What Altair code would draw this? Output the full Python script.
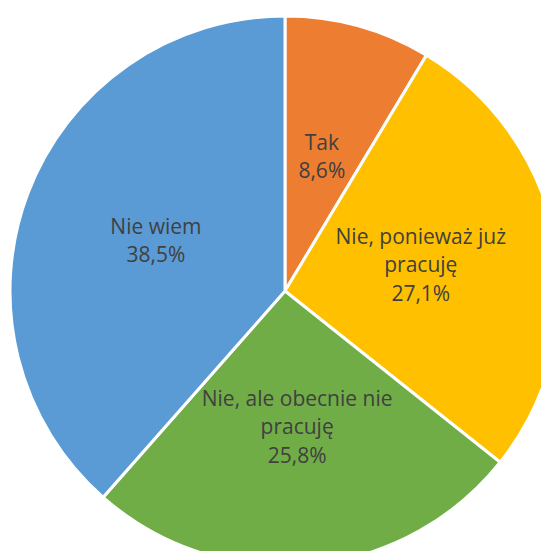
import altair as alt
import pandas as pd

categories = ["Tak", "Nie, ponieważ już\npracuję", "Nie, ale obecnie nie\npracuję", "Nie wiem"]
values = [8.6, 27.1, 25.8, 38.5]
colors = ["#ED7D31", "#FFC000", "#70AD47", "#5B9BD5"]

df = pd.DataFrame({
    "cat": categories,
    "value": values,
    "order": list(range(len(categories))),
})
df["label"] = [c + "\n" + f"{v:.1f}".replace(".", ",") + "%" for c, v in zip(categories, values)]
df["lines"] = df["label"].str.count("\n") + 1

CX, CY = 277, 283
LH = 28.5

base = alt.Chart(df).encode(
    theta=alt.Theta("value:Q", stack=True),
    order=alt.Order("order:O"),
    x=alt.value(CX),
    y=alt.value(CY),
)

arcs = base.mark_arc(outerRadius=275, stroke="white", strokeWidth=3).encode(
    color=alt.Color("cat:N", scale=alt.Scale(domain=categories, range=colors), legend=None)
)

txt_style = dict(radius=138, fontSize=21, font="Open Sans", color="#404040",
                 lineBreak="\n", lineHeight=LH, align="center", baseline="middle")


def label_layer(n):
    # Vega anchors the first line; shift the block so it is centred
    return base.transform_calculate(
        t=f"datum.lines == {n} ? datum.label : ''"
    ).mark_text(dy=-(n - 1) * LH / 2, **txt_style).encode(text="t:N")


chart = alt.layer(arcs, label_layer(2), label_layer(3)).properties(
    width=533, height=543, autosize=alt.AutoSizeParams(type="none"), padding=0
).configure_view(stroke=None)

chart.save("out.html", embed_options={"renderer": "svg", "actions": False})
